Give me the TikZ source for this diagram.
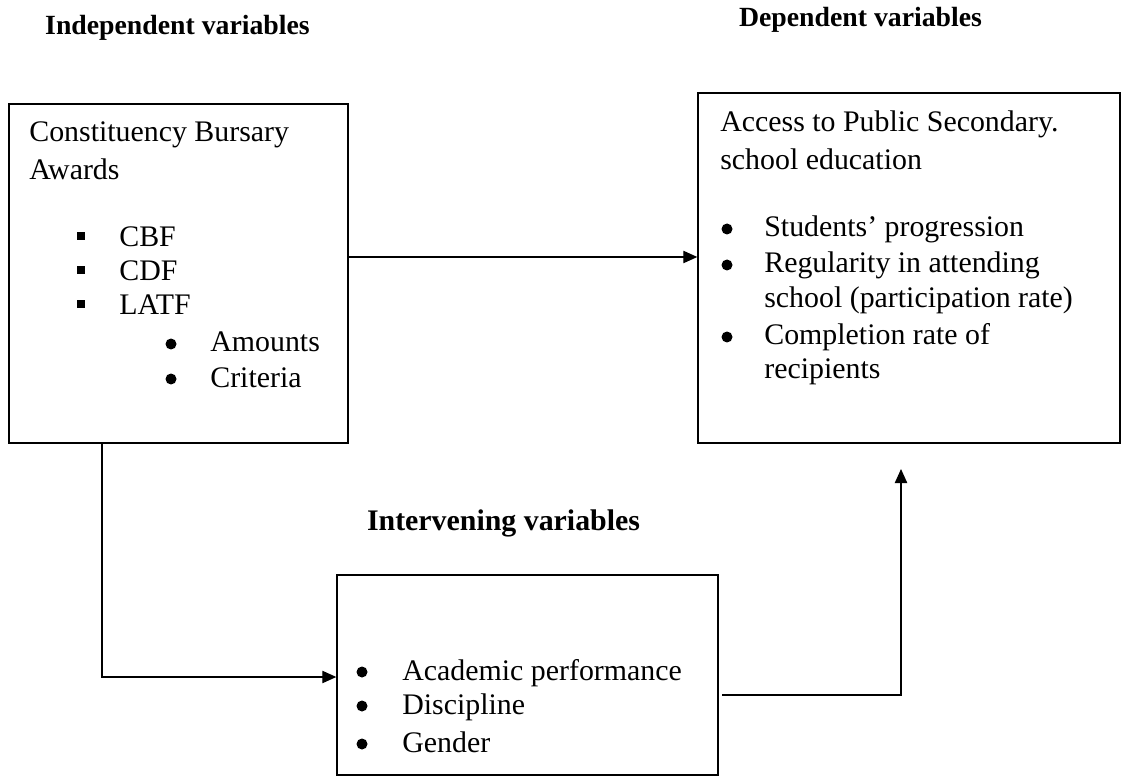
\documentclass[tikz,border=0pt]{standalone}
\usepackage{fontspec}
\setmainfont{Liberation Serif}
\usetikzlibrary{positioning, arrows.meta}
\newcommand{\sqbul}{\rule[4pt]{4.6pt}{4.6pt}}

\begin{document}
\begin{tikzpicture}[x=0.02cm, y=-0.02cm,
box/.style = {% frames
    draw, line width=0.8pt, inner sep=0pt,
            },
tx/.style = {% body text
    anchor=base west, inner sep=0pt, font=\fontsize{17}{20}\selectfont,
            },
bl/.style = {tx, anchor=base},
dot/.style = {% round bullets
    circle, fill, inner sep=0pt, minimum size=0.22cm,
            },
hd/.style = {% headings
    anchor=base, inner sep=0pt, font=\bfseries\fontsize{15.8}{18}\selectfont,
            },
link/.style = {line width=0.8pt, -{Triangle[length=8pt,width=7pt]}},
                        ]
\useasboundingbox (0,0) rectangle (1121,776);
% headings
\node[hd] (indep) at (177.5,35) {Independent variables};
\node[hd] (dep) at (860.5,27) {Dependent variables};
\node[hd, font=\bfseries\fontsize{17}{20}\selectfont] (interv) at (503.5,530) {Intervening variables};
% frames
\node[box, minimum width=6.78cm, minimum height=6.78cm] (A) at (178.5,273.5) {};
\node[box, minimum width=8.44cm, minimum height=7.0cm] (B) at (909,268) {};
\node[box, minimum width=7.62cm, minimum height=4.0cm] (C) at (527.5,675) {};
% left box text
\node[tx] (ttlA1) at (29,142) {Constituency Bursary};
\node[tx] (ttlA2) at (29,180) {Awards};
\foreach \t [count=\i] in {CBF, CDF, LATF}{
    \node[bl] (sqA\i) at (81,213+34*\i) {\sqbul};
    \node[tx] (itA\i) at (119,213+34*\i) {\t};}
\foreach \t [count=\i] in {Amounts, Criteria}{
    \node[dot] (dtA\i) at (171,309+35*\i) {};
    \node[tx] (subA\i) at (210,317+35*\i) {\t};}
% right box text
\node[tx] (ttlB1) at (720,132) {Access to Public Secondary.};
\node[tx] (ttlB2) at (720,170) {school education};
\foreach \y [count=\i] in {237, 273, 345}{
    \node[dot] (dtB\i) at (727,\y-8) {};}
\foreach \t/\y [count=\i] in {Students’ progression/237,
        Regularity in attending/273,
        school (participation rate)/308,
        Completion rate of/345,
        recipients/378}{
    \node[tx] (itB\i) at (764,\y) {\t};}
% bottom box text
\foreach \t/\y [count=\i] in {Academic performance/680, Discipline/714, Gender/752}{
    \node[dot] (dtC\i) at (362,\y-8) {};
    \node[tx] (itC\i) at (402,\y) {\t};}
% connectors
\coordinate (ab) at (0,257);
\coordinate (ac) at (102,677);
\coordinate (cb) at (901,695);
\coordinate (cbend) at (901,469);
\draw[link] (A.east |- ab) -- (B.west |- ab);
\draw[link] (A.south -| ac) |- (C.west |- ac);
\draw[link] ([xshift=2pt]C.east |- cb) -| (cbend);
\end{tikzpicture}
\end{document}
